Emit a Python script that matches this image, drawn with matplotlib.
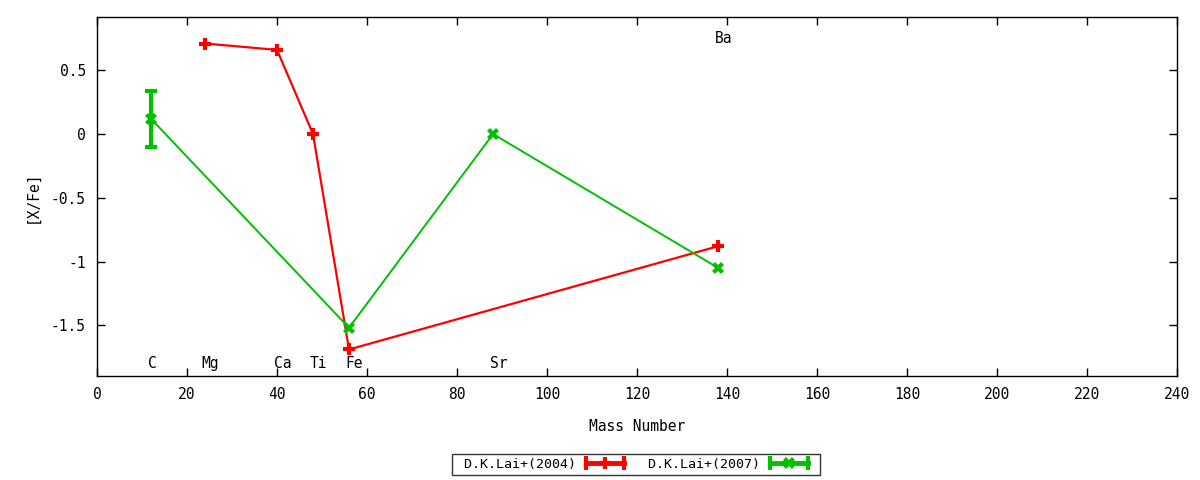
import matplotlib
matplotlib.use("Agg")
import matplotlib.pyplot as plt
from matplotlib.lines import Line2D
from matplotlib.legend_handler import HandlerBase

# Data
red_label = "D.K.Lai+(2004)"
red_mass = [24, 40, 48, 56, 138]
red_val = [0.71, 0.66, 0.0, -1.69, -0.88]

green_label = "D.K.Lai+(2007)"
green_mass = [12, 56, 88, 138]
green_val = [0.12, -1.52, 0.0, -1.05]
green_err = [0.22, 0.0, 0.0, 0.0]

elem_names = ["C", "Mg", "Ca", "Ti", "Fe", "Sr", "Ba"]
elem_mass = [12, 24, 40, 48, 56, 88, 138]
elem_y = [-1.80, -1.80, -1.80, -1.80, -1.80, -1.80, 0.75]

xticks = list(range(0, 241, 20))
yticks = [-1.5, -1, -0.5, 0, 0.5]
ytick_labels = ["-1.5", "-1", "-0.5", "0", "0.5"]

plt.rcParams['font.family'] = ['DejaVu Sans Mono']
plt.rcParams['font.size'] = 10.5

fig = plt.figure(figsize=(12, 4.8), dpi=100)
ax = fig.add_axes([0.0808, 0.2167, 0.9002, 0.7479])

red = "#ff0000"
green = "#00c000"

ax.plot(red_mass, red_val, color=red, lw=1.6, marker='+', ms=9, mew=3)
ax.plot(green_mass, green_val, color=green, lw=1.4, marker='X', ms=8, mew=0)
eb = [(m, v, e) for m, v, e in zip(green_mass, green_val, green_err) if e > 0]
ax.errorbar([p[0] for p in eb], [p[1] for p in eb], yerr=[p[2] for p in eb],
            fmt='none', ecolor=green, elinewidth=3, capsize=4, capthick=3)

for n, m, y in zip(elem_names, elem_mass, elem_y):
    ax.text(m - 0.7, y, n, ha='left', va='center', fontsize=10.5)

ax.set_xlim(0, 240)
ax.set_ylim(-1.898, 0.918)
ax.set_xticks(xticks)
ax.set_yticks(yticks)
ax.set_yticklabels(ytick_labels)
ax.tick_params(direction='in', top=True, right=True, length=6, width=1,
               pad=8)
for s in ax.spines.values():
    s.set_linewidth(1)
ax.set_xlabel("Mass Number", labelpad=12)
ax.set_ylabel("[X/Fe]", labelpad=8)


class CapHandler(HandlerBase):
    def create_artists(self, legend, orig_handle, xdescent, ydescent,
                       width, height, fontsize, trans):
        c = orig_handle.get_color()
        y = height / 2 - ydescent
        x0, x1 = -xdescent, width - xdescent - 6
        line = Line2D([x0, x1], [y, y], color=c, lw=3.5)
        caps = Line2D([x0, x1], [y, y], ls='', marker='|', ms=10, mew=3,
                      color=c)
        mid = Line2D([(x0 + x1) / 2], [y], ls='',
                     marker=orig_handle.get_marker(),
                     ms=orig_handle.get_markersize(),
                     mew=orig_handle.get_markeredgewidth(), color=c)
        arts = [line, caps, mid]
        for a in arts:
            a.set_transform(trans)
        return arts


h_red = Line2D([], [], color=red, marker='+', ms=9, mew=3)
h_green = Line2D([], [], color=green, marker='X', ms=8, mew=0)
leg = fig.legend([h_red, h_green], [" " + red_label, " " + green_label],
                 loc='center', bbox_to_anchor=(0.53, 0.033), ncol=2,
                 markerfirst=False, frameon=True, fancybox=False,
                 edgecolor='black', fontsize=9.6, handlelength=3.45,
                 columnspacing=0.6, borderpad=0.3, handletextpad=0.75,
                 handler_map={Line2D: CapHandler()})
leg.get_frame().set_linewidth(1)

fig.savefig("out.png", dpi=100)
